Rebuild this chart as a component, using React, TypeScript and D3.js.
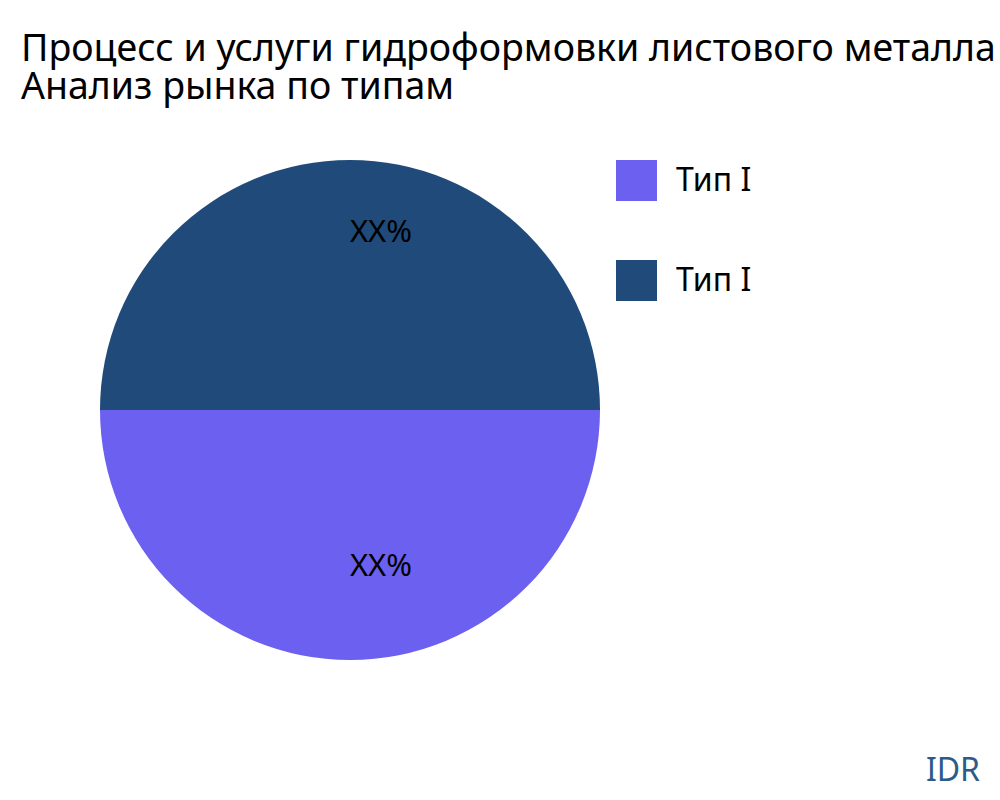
import React from "react";
import * as d3 from "d3";

const titleLines = [
  "Процесс и услуги гидроформовки листового металла",
  "Анализ рынка по типам",
];
const categories = ["Тип I", "Тип I"];
const values = [50, 50];
const labels = ["XX%", "XX%"];
const colors = ["#6c60f0", "#1f4a7a"];

const FONT = "'Noto Sans', 'Open Sans', sans-serif";

export default function App() {
  const width = 1000;
  const height = 800;
  const cx = 350;
  const cy = 410;
  const radius = 250;

  // first slice starts at 3 o'clock and runs clockwise
  const pie = d3
    .pie<number>()
    .sort(null)
    .startAngle(Math.PI / 2)
    .endAngle(Math.PI / 2 + 2 * Math.PI);
  const arcs = pie(values);

  const arc = d3.arc<d3.PieArcDatum<number>>().innerRadius(0).outerRadius(radius);
  const labelArc = d3
    .arc<d3.PieArcDatum<number>>()
    .innerRadius(167)
    .outerRadius(167);

  const legendY = d3
    .scalePoint<number>()
    .domain(categories.map((_, i) => i))
    .range([160, 260]);

  return (
    <svg
      width={width}
      height={height}
      style={{ position: "absolute", left: 0, top: 0, background: "#fff" }}
      fontFamily={FONT}
    >
      {titleLines.map((t, i) => (
        <text key={i} x={21} y={61 + i * 38} fontSize={37.5} fill="#000">
          {t}
        </text>
      ))}

      <g transform={`translate(${cx},${cy})`}>
        {arcs.map((a, i) => (
          <path key={i} d={arc(a) ?? ""} fill={colors[i]} />
        ))}
        {arcs.map((a, i) => {
          const [lx, ly] = labelArc.centroid(a);
          return (
            <text
              key={i}
              x={lx + 31}
              y={ly - 12}
              dy="0.35em"
              textAnchor="middle"
              fontSize={31}
              fill="#000"
            >
              {labels[i]}
            </text>
          );
        })}
      </g>

      {categories.map((c, i) => (
        <g key={i} transform={`translate(616,${legendY(i)})`}>
          <rect width={41} height={41} fill={colors[i]} />
          <text x={60} y={31} fontSize={32} fill="#000">
            {c}
          </text>
        </g>
      ))}

      <text x={980} y={781} textAnchor="end" fontSize={32} fill="#2c5b8a">
        IDR
      </text>
    </svg>
  );
}
